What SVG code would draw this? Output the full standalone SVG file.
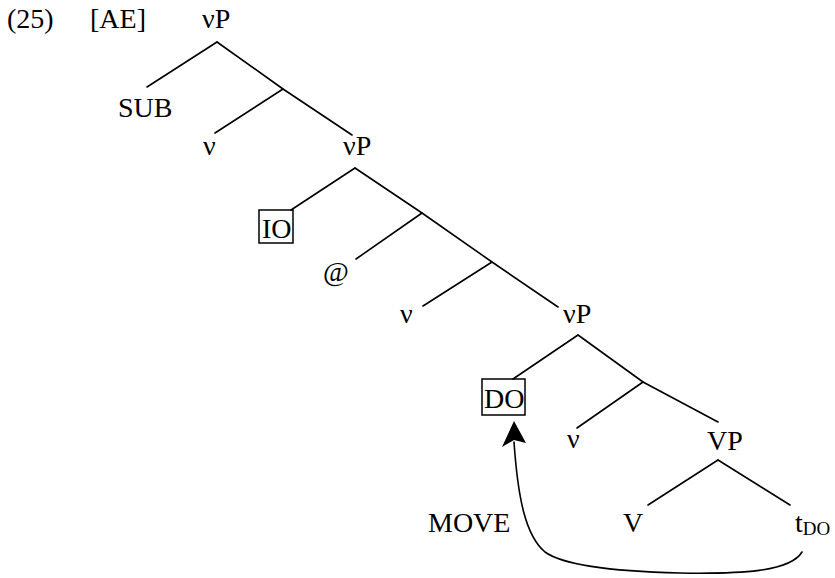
<svg xmlns="http://www.w3.org/2000/svg" width="835" height="578" viewBox="0 0 835 578">
<style>
text{font-family:"Liberation Serif","Times New Roman",serif;font-size:28px;fill:#000}
.sub{font-size:19px}
.e{stroke:#000;stroke-width:1.6;fill:none;stroke-linecap:round}
.box{stroke:#000;stroke-width:1.5;fill:none}
</style>
<rect width="835" height="578" fill="#fff"/>
<g id="label">
<text x="7" y="28">(25)</text>
<text x="90" y="28">[AE]</text>
</g>
<g id="connectors">
<path class="e" d="M217,42 L147,87"/>
<path class="e" d="M217,42 L283,89 L352,135"/>
<path class="e" d="M283,89 L215,133"/>
<path class="e" d="M355,168 L291,210"/>
<path class="e" d="M355,168 L422,213 L492,262 L558,307"/>
<path class="e" d="M422,213 L356,259"/>
<path class="e" d="M492,262 L423,306"/>
<path class="e" d="M578,335 L513,379"/>
<path class="e" d="M578,335 L643,382 L718,422"/>
<path class="e" d="M643,382 L577,428"/>
<path class="e" d="M718,460 L648,505"/>
<path class="e" d="M718,460 L790,505"/>
<path class="e" d="M802,552 C790,572 740,574 680,573 C600,571 560,563 545,552 C526,536 518,500 514,442"/>
<polygon points="514,421 502,447 514,440 526,443" fill="#000"/>
</g>
<g id="n-vP1"><text x="202" y="28">νP</text></g>
<g id="n-SUB"><text x="118" y="117">SUB</text></g>
<g id="n-v1"><text x="203" y="155">ν</text></g>
<g id="n-vP2"><text x="343" y="155">νP</text></g>
<g id="n-IO"><rect class="box" x="259" y="210" width="34" height="33"/><text x="262" y="238">IO</text></g>
<g id="n-at"><text x="323" y="281">@</text></g>
<g id="n-v2"><text x="400" y="323">ν</text></g>
<g id="n-vP3"><text x="563" y="323">νP</text></g>
<g id="n-DO"><rect class="box" x="482" y="379" width="43" height="36"/><text x="484" y="408">DO</text></g>
<g id="n-v3"><text x="567" y="448">ν</text></g>
<g id="n-VP"><text x="707" y="450">VP</text></g>
<g id="n-V"><text x="623" y="532">V</text></g>
<g id="n-t"><text x="795" y="532">t<tspan class="sub" dy="3">DO</tspan></text></g>
<g id="n-MOVE"><text x="428" y="532">MOVE</text></g>
</svg>
